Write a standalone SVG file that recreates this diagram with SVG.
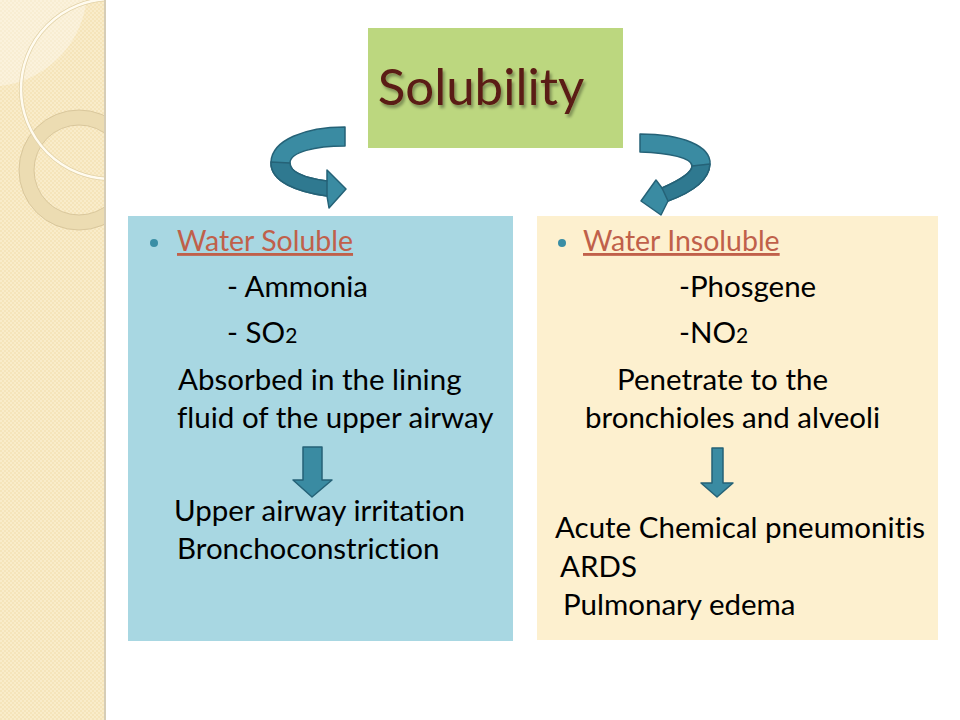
<svg xmlns="http://www.w3.org/2000/svg" width="960" height="720" viewBox="0 0 960 720">
  <defs>
    <style>
      text { font-variant-ligatures: none; font-feature-settings: "liga" 0, "clig" 0; }
      .txt { font-family: Lato, "Noto Sans", "Liberation Sans", sans-serif; font-size: 29.5px; fill: #000; }
      .head { font-family: Lato, "Noto Sans", "Liberation Sans", sans-serif; font-size: 28.5px; fill: #c0604a; text-decoration: underline; }
      .sub { font-size: 21px; }
      .arrow { fill: #3a8ba2; stroke: #256277; stroke-width: 1.5; stroke-linejoin: round; }
      .arrowDark { fill: #2f7990; stroke: #256277; stroke-width: 1.5; stroke-linejoin: round; }
      .bullet { fill: #3a8ea5; }
    </style>
    <pattern id="weave" x="0" y="0" width="4" height="4" patternUnits="userSpaceOnUse">
      <rect width="4" height="4" fill="#f5e4ba"/>
      <rect width="2" height="2" fill="#f9ecca"/>
      <rect x="2" y="2" width="2" height="2" fill="#f9ecca"/>
    </pattern>
    <clipPath id="stripClip"><rect x="0" y="0" width="105" height="720"/></clipPath>
    <filter id="shadow" x="-10%" y="-10%" width="130%" height="140%">
      <feDropShadow dx="2" dy="3" stdDeviation="1.5" flood-color="#000" flood-opacity="0.35"/>
    </filter>
  </defs>

  <rect x="0" y="0" width="960" height="720" fill="#ffffff"/>

  <!-- decorative left strip -->
  <g id="strip">
    <rect x="0" y="0" width="105" height="720" fill="url(#weave)"/>
    <g clip-path="url(#stripClip)">
      <path d="M0,0 L86,0 L86,4 A98 98 0 0 1 0,86 Z" fill="#ffffff" fill-opacity="0.35"/>
      <circle cx="79" cy="170" r="52.5" fill="none" stroke="#ecdcb2" stroke-width="15"/>
      <circle cx="79" cy="170" r="60" fill="none" stroke="#d9c79c" stroke-width="1"/>
      <circle cx="79" cy="170" r="45" fill="none" stroke="#d9c79c" stroke-width="1"/>
      <circle cx="111" cy="89" r="90" fill="none" stroke="#e2d2a8" stroke-width="4"/>
      <circle cx="111" cy="89" r="90" fill="none" stroke="#fffbef" stroke-width="2.5"/>
    </g>
    <rect x="104" y="0" width="2" height="720" fill="#d6cdb6"/>
  </g>

  <!-- title node -->
  <g id="title">
    <rect x="368" y="28" width="255" height="120" fill="#bcd77f"/>
    <text x="481" y="105" text-anchor="middle" filter="url(#shadow)" style="font-family: Lato, 'Noto Sans', 'Liberation Sans', sans-serif; font-size: 51px; fill: #5a1a12;">Solubility</text>
  </g>

  <!-- left panel -->
  <g id="water-soluble">
    <rect x="128" y="216" width="385" height="425" fill="#a8d7e2"/>
    <circle class="bullet" cx="154" cy="243" r="4"/>
    <text class="head" x="177" y="251">Water Soluble</text>
    <text class="txt" x="227" y="297">- Ammonia</text>
    <text class="txt" x="227" y="343">- SO<tspan class="sub">2</tspan></text>
    <text class="txt" x="178" y="390">Absorbed in the lining</text>
    <text class="txt" x="177" y="428">fluid of the upper airway</text>
    <text class="txt" x="174" y="521">Upper airway irritation</text>
    <text class="txt" x="177" y="559">Bronchoconstriction</text>
  </g>

  <!-- right panel -->
  <g id="water-insoluble">
    <rect x="537" y="216" width="401" height="424" fill="#fdf0cf"/>
    <circle class="bullet" cx="562" cy="243" r="4"/>
    <text class="head" x="583" y="251">Water Insoluble</text>
    <text class="txt" x="679" y="297">-Phosgene</text>
    <text class="txt" x="679" y="343">-NO<tspan class="sub">2</tspan></text>
    <text class="txt" x="617" y="390">Penetrate to the</text>
    <text class="txt" x="585" y="428">bronchioles and alveoli</text>
    <text class="txt" x="555" y="538">Acute Chemical pneumonitis</text>
    <text class="txt" x="560" y="577">ARDS</text>
    <text class="txt" x="563" y="615">Pulmonary edema</text>
  </g>

  <!-- connectors -->
  <g id="connectors">
    <!-- left curved arrow -->
    <path class="arrow" d="M345,127 C305,127 272,140 271,162 C270,182 298,192 327,196 L329,208 L346,189 L327,170 L327,181 C305,178 290,172 290,163 C290,152 315,146 345,146 Z"/>
    <path class="arrowDark" d="M271,162 C270,182 298,192 327,196 L327,181 C305,178 290,172 290,163 Z"/>
    <!-- right curved arrow -->
    <path class="arrow" d="M640,134 C682,134 711,146 710,164 C709,182 690,193 668,201 L661,215 L641,201 L656,180 L662,188 C680,180 692,173 692,166 C692,158 670,153 640,152 Z"/>
    <path class="arrowDark" d="M710,164 C709,182 690,193 668,201 L662,188 C680,180 692,173 692,166 Z"/>
    <!-- left down arrow -->
    <path class="arrow" d="M303,447 L322,447 L322,480 L332,480 L312,497 L293,480 L303,480 Z"/>
    <!-- right down arrow -->
    <path class="arrow" d="M712,448 L723,448 L723,483 L733,483 L717,497 L701,483 L712,483 Z"/>
  </g>
</svg>
